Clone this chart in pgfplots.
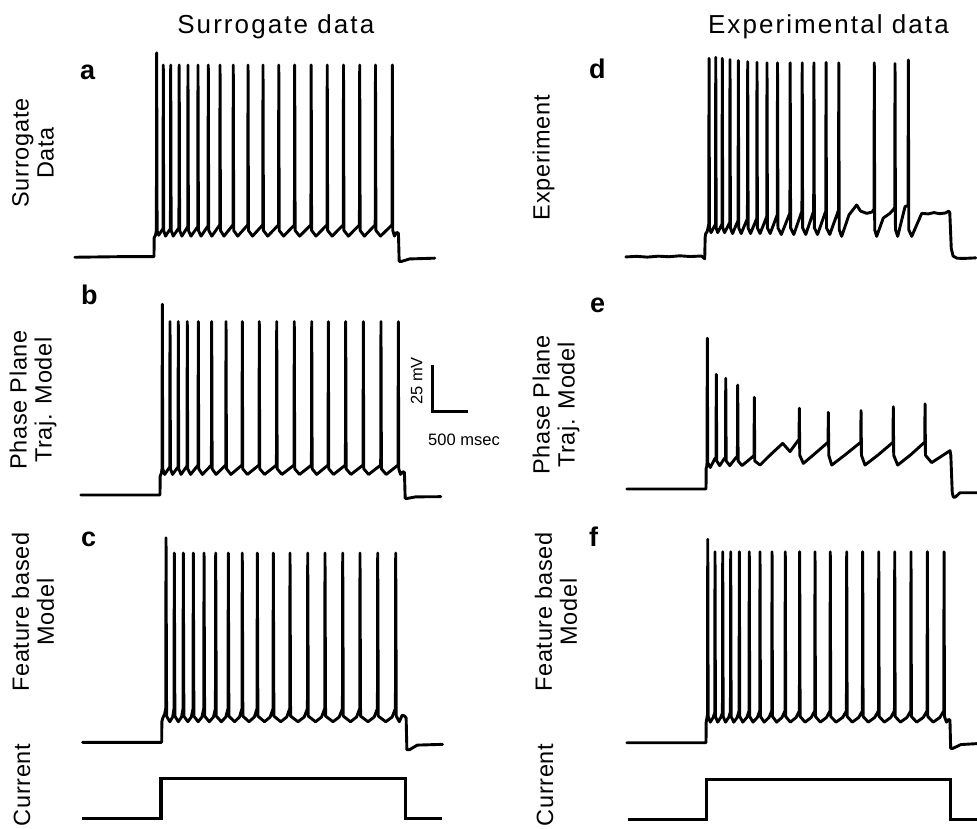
\documentclass[border=0pt]{standalone}
\usepackage{fontspec}
\setmainfont{Liberation Sans}
\newfontfamily\titlefont[LetterSpace=8]{Liberation Sans}
\newfontfamily\labfont[LetterSpace=3]{Liberation Sans}
\usepackage{pgfplots}
\pgfplotsset{compat=1.18}
\pgfplotsset{
  trace/.style={hide axis, clip=false, x=0.036pt, y=0.935pt, xmin=0, xmax=5000, ymin=-70, ymax=45, anchor=south west, enlargelimits=false},
  curr/.style={hide axis, clip=false, x=0.036pt, y=19.75pt, xmin=0, xmax=5000, ymin=0, ymax=1, anchor=south west, enlargelimits=false},
  tr/.style={black, line width=1.45pt, line join=round, line cap=round, mark=none}
}
\begin{document}
\begin{tikzpicture}
\useasboundingbox (0,0) rectangle (488.5pt,414pt);
% ---------- titles ----------
\node[anchor=base, font=\titlefont\fontsize{13}{15}\selectfont] at (137.9pt,397pt) {Surrogate data};
\node[anchor=base, font=\titlefont\fontsize{13}{15}\selectfont] at (414.2pt,397pt) {Experimental data};
% ---------- row labels ----------
\begin{scope}[every node/.style={rotate=90, align=center, font=\labfont\fontsize{11.75}{12.5}\selectfont}]
\node at (16.5pt,337.5pt) {Surrogate\\Data};
\node at (16.5pt,214pt) {Phase Plane\\Traj. Model};
\node at (16.5pt,108pt) {Feature based\\Model};
\node at (11pt,21.5pt) {Current};
\node at (271.75pt,335.25pt) {Experiment};
\node at (278pt,211.5pt) {Phase Plane\\Traj. Model};
\node at (278pt,108pt) {Feature based\\Model};
\node at (272.5pt,21.5pt) {Current};
\end{scope}
% ---------- panel letters ----------
\begin{scope}[every node/.style={anchor=base west, font=\bfseries\fontsize{13.5}{15}\selectfont}]
\node at (36.5pt,374pt) {a};
\node at (37pt,261.5pt) {b};
\node at (37pt,140.5pt) {c};
\node at (291pt,374.8pt) {d};
\node at (291.5pt,257.5pt) {e};
\node at (291pt,140.5pt) {f};
\end{scope}
% ---------- scale bar text ----------
\node[rotate=90, font=\fontsize{8.25}{10}\selectfont] at (208.35pt,223.5pt) {25 mV};
\node[font=\fontsize{8.25}{10}\selectfont] at (232pt,194pt) {500 msec};

% ================= a =================
\begin{axis}[trace, at={(37.4pt,285.65pt)}]
\addplot[tr] coordinates {(0,-70.3)(600,-70)(1100,-70)(1102,-60)(1120,-58.5)
(1133,-56)(1137,39)(1143,-56)(1165,-58.5)
(1225,-55)(1229,32.5)(1235,-56)(1260,-59)
(1328,-55)(1332,32.5)(1338,-56)(1367,-59)
(1446,-54.5)(1450,32.5)(1456,-56)(1487,-59)
(1568,-54)(1572,32.5)(1578,-56)(1614,-59)
(1707,-54)(1711,32.5)(1717,-56)(1754,-59)
(1850,-53.5)(1854,32.5)(1860,-56)(1903,-59)
(2013,-53)(2017,32.5)(2023,-56)(2072,-59)
(2197,-53)(2201,32.5)(2207,-56)(2263,-59)
(2402,-53)(2406,32.5)(2412,-56)(2468,-59)
(2610,-53)(2614,32.5)(2620,-56)(2680,-59)
(2829,-53)(2833,32.5)(2839,-56)(2900,-59)
(3050,-53)(3054,32.5)(3060,-56)(3123,-59)
(3279,-53)(3283,32.5)(3289,-56)(3350,-59)
(3502,-53)(3506,32.5)(3512,-56)(3574,-59)
(3728,-53)(3732,32.5)(3738,-56)(3800,-59)
(3953,-53)(3957,32.5)(3963,-56)(4022,-59)
(4172,-53)(4176,32.5)(4182,-56)(4246,-59)
(4406,-53)(4410,32.5)(4416,-56)(4440,-59)
(4470,-57)(4495,-57.5)(4505,-72.5)(4540,-72.5)(4650,-71.2)(5000,-70.8)};
\end{axis}

% ================= b =================
\begin{axis}[trace, at={(40.4pt,166.5pt)}]
\addplot[tr] coordinates {(0,-70)(1100,-70)(1102,-60)(1118,-58.5)
(1128,-56)(1132,32)(1138,-56)(1165,-59)
(1235,-55)(1239,22.7)(1245,-56)(1274,-59)
(1350,-55)(1354,22.7)(1360,-56)(1392,-59)
(1475,-54.5)(1479,22.7)(1485,-56)(1525,-59)
(1628,-54)(1632,22.7)(1638,-56)(1688,-59)
(1814,-54)(1818,22.7)(1824,-56)(1878,-59)
(2013,-54)(2017,22.7)(2023,-56)(2085,-59)
(2239,-54)(2243,22.7)(2249,-56)(2314,-59)
(2475,-54)(2479,22.7)(2485,-56)(2552,-59)
(2717,-54)(2721,22.7)(2727,-56)(2794,-59)
(2961,-54)(2965,22.7)(2971,-56)(3038,-59)
(3203,-54)(3207,22.7)(3213,-56)(3276,-59)
(3434,-54)(3438,22.7)(3444,-56)(3510,-59)
(3675,-54)(3679,22.7)(3685,-56)(3752,-59)
(3920,-54)(3924,22.7)(3930,-56)(3997,-59)
(4165,-54)(4169,22.7)(4175,-56)(4241,-59)
(4406,-54)(4410,22.7)(4416,-56)(4440,-59)
(4475,-57.5)(4495,-58)(4505,-71.8)(4540,-71.8)(4650,-71)(5000,-70.9)};
% scale bar: 500 ms, 25 mV
\addplot[black, line width=1.3pt, mark=none] coordinates {(5382,-25.5)(4882,-25.5)(4882,-0.5)};
\end{axis}

% ================= c =================
\begin{axis}[trace, at={(41.25pt,42.85pt)}]
\addplot[tr] coordinates {(0,-70)(1100,-70)(1102,-59)(1115,-57)(1140,-55)
(1156,-52)(1160,39.3)(1168,-56)(1212,-59)(1252,-56.5)
(1271,-52)(1275,31.2)(1283,-56)(1331,-59)(1375,-56.5)
(1396,-52)(1400,31.2)(1408,-56)(1463,-59)(1511,-56.5)
(1535,-52)(1539,31.2)(1547,-56)(1606,-59)(1658,-56.5)
(1684,-52)(1688,31.2)(1696,-56)(1761,-59)(1818,-56.5)
(1846,-52)(1850,31.2)(1858,-56)(1929,-59)(1990,-56.5)
(2021,-52)(2025,31.2)(2033,-56)(2112,-59)(2180,-56.5)
(2215,-52)(2219,31.2)(2227,-56)(2313,-59)(2386,-56.5)
(2424,-52)(2428,31.2)(2436,-56)(2528,-59)(2606,-56.5)
(2646,-52)(2650,31.2)(2658,-56)(2754,-59)(2836,-56.5)
(2878,-52)(2882,31.2)(2890,-56)(2993,-59)(3079,-56.5)
(3124,-52)(3128,31.2)(3136,-56)(3236,-59)(3320,-56.5)
(3364,-52)(3368,31.2)(3376,-56)(3479,-59)(3565,-56.5)
(3610,-52)(3614,31.2)(3622,-56)(3722,-59)(3806,-56.5)
(3850,-52)(3854,31.2)(3862,-56)(3965,-59)(4051,-56.5)
(4096,-52)(4100,31.2)(4108,-56)(4212,-59)(4300,-56.5)
(4346,-52)(4350,31.2)(4358,-56)(4400,-59)(4440,-55.5)
(4475,-56)(4495,-57)(4505,-74)(4540,-74)(4650,-71.5)(5000,-71.1)};
\end{axis}

% ================= current (left) =================
\begin{axis}[curr, at={(40.9pt,4.85pt)}]
\addplot[black, line width=1.6pt, mark=none] coordinates {(0,0)(1100,0)(1100,1)(4500,1)(4500,0)(5000,0)};
\end{axis}

% ================= d =================
\begin{axis}[trace, xmax=4860, at={(312.9pt,286pt)}]
\addplot[tr] coordinates {(0,-70.5)(150,-70.2)(300,-70.6)(450,-70.1)(600,-70.4)(750,-69.9)(900,-70.3)(1050,-70)(1096,-71.5)(1102,-60)(1110,-58)(1130,-57)
(1152,-53)(1156,35.7)(1162,-55)(1184,-57.5)
(1245,-53)(1249,36.2)(1255,-55)(1276,-57.5)
(1336,-53)(1340,35.7)(1346,-55)(1372,-57.5)
(1443,-52)(1447,35)(1453,-55)(1482,-58)
(1559,-51)(1563,34.5)(1569,-55)(1602,-58)
(1689,-50)(1693,33.9)(1699,-55)(1732,-58)
(1818,-50)(1822,33.5)(1828,-55)(1864,-58)
(1957,-49)(1961,33.3)(1967,-55)(2005,-58)
(2103,-48)(2107,33.3)(2113,-55)(2160,-58.5)
(2279,-47)(2283,33.3)(2289,-55)(2333,-58.5)
(2446,-46)(2450,33.3)(2456,-55)(2499,-58.5)
(2609,-46)(2613,33.3)(2619,-55)(2663,-58.5)
(2777,-46)(2781,33.5)(2787,-55)(2833,-58.5)
(2954,-45.5)(2958,33.3)(2964,-56)(2998,-59.5)
(3100,-48)(3207,-42.7)(3260,-46)(3346,-47.2)(3420,-46.5)
(3447,-45)(3451,33.3)(3457,-56)(3484,-59.5)(3576,-49.7)(3668,-47.2)(3720,-45)
(3735,-44)(3739,32.9)(3745,-56)(3776,-59.5)(3878,-43.6)
(3920,-43)(3924,34.8)(3930,-56)(3971,-59.5)(4110,-47.2)(4200,-47.5)(4280,-46.8)(4360,-47.4)(4440,-47)(4485,-46)
(4500,-47)(4520,-66)(4545,-70)(4600,-71.2)(4700,-71.3)(4860,-71)};
\end{axis}

% ================= e =================
\begin{axis}[trace, xmax=4860, at={(313.4pt,169.5pt)}]
\addplot[tr] coordinates {(0,-70)(1100,-70)(1102,-59)(1110,-58)
(1114,-56)(1118,10.6)(1124,-56)(1160,-58.5)(1220,-54)
(1239,-53)(1243,-8.7)(1249,-55)(1290,-57.5)(1350,-54)
(1370,-53)(1374,-10.8)(1380,-55)(1430,-57.5)(1510,-53.5)
(1536,-52.5)(1540,-14.4)(1546,-55)(1600,-57.5)(1740,-53)
(1767,-52)(1771,-21)(1777,-55)(1850,-57.2)(2000,-51.5)(2165,-45.6)(2267,-50)(2370,-44.5)
(2392,-43.5)(2396,-26.8)(2402,-52)(2452,-56.3)(2600,-51.5)(2776,-45.6)
(2795,-45)(2799,-29)(2805,-52)(2846,-57.2)(3030,-51.8)(3229,-45.6)
(3249,-45)(3253,-28.1)(3259,-52)(3308,-57.2)(3490,-51.8)(3679,-45.6)
(3697,-45)(3701,-26)(3707,-52)(3762,-57.2)(3940,-51.8)(4118,-45.6)
(4138,-45)(4142,-24.5)(4148,-52)(4234,-55.9)(4489,-49.5)
(4500,-52)(4520,-72)(4535,-74.3)(4560,-74.4)(4628,-72)(4860,-72)};
\end{axis}

% ================= f =================
\begin{axis}[trace, xmax=4860, at={(313.4pt,42.65pt)}]
\addplot[tr] coordinates {(0,-70)(1100,-70)(1102,-59)(1112,-57)
(1120,-55)(1124,38.8)(1130,-56)(1159,-59)(1200,-56.5)
(1221,-54)(1225,32.1)(1231,-56)(1262,-59)(1305,-56.5)
(1328,-54)(1332,32.1)(1338,-56)(1371,-59)(1415,-56.5)
(1439,-53.5)(1443,32.1)(1449,-56)(1485,-59)(1533,-56.5)
(1559,-53)(1563,32.1)(1569,-56)(1611,-59)(1667,-56.5)
(1697,-53)(1701,32.1)(1707,-56)(1753,-59)(1813,-56.5)
(1846,-53)(1850,32.1)(1856,-56)(1908,-59)(1975,-56.5)
(2013,-53)(2017,32.1)(2023,-56)(2081,-59)(2155,-56.5)
(2197,-53)(2201,32.1)(2207,-56)(2271,-59)(2351,-56.5)
(2397,-53)(2401,32.1)(2407,-56)(2476,-59)(2561,-56.5)
(2610,-53)(2614,32.1)(2620,-56)(2688,-59)(2773,-56.5)
(2822,-53)(2826,32.1)(2832,-56)(2906,-59)(2997,-56.5)
(3050,-53)(3054,32.1)(3060,-56)(3132,-59)(3221,-56.5)
(3272,-53)(3276,32.1)(3282,-56)(3354,-59)(3443,-56.5)
(3495,-53)(3499,32.1)(3505,-56)(3577,-59)(3666,-56.5)
(3717,-53)(3721,32.1)(3727,-56)(3800,-59)(3891,-56.5)
(3943,-53)(3947,32.1)(3953,-56)(4026,-59)(4117,-56.5)
(4170,-53)(4174,32.1)(4180,-56)(4255,-59)(4348,-56.5)
(4402,-53)(4406,32.1)(4412,-56)(4440,-59)(4470,-57.5)
(4488,-58)(4498,-73)(4530,-73)(4640,-71)(4860,-70.5)};
\end{axis}

% ================= current (right) =================
\begin{axis}[curr, xmax=4854, at={(313.75pt,4.35pt)}]
\addplot[black, line width=1.6pt, mark=none] coordinates {(0,0)(1100,0)(1100,1)(4490,1)(4490,0)(4854,0)};
\end{axis}
\end{tikzpicture}
\end{document}
